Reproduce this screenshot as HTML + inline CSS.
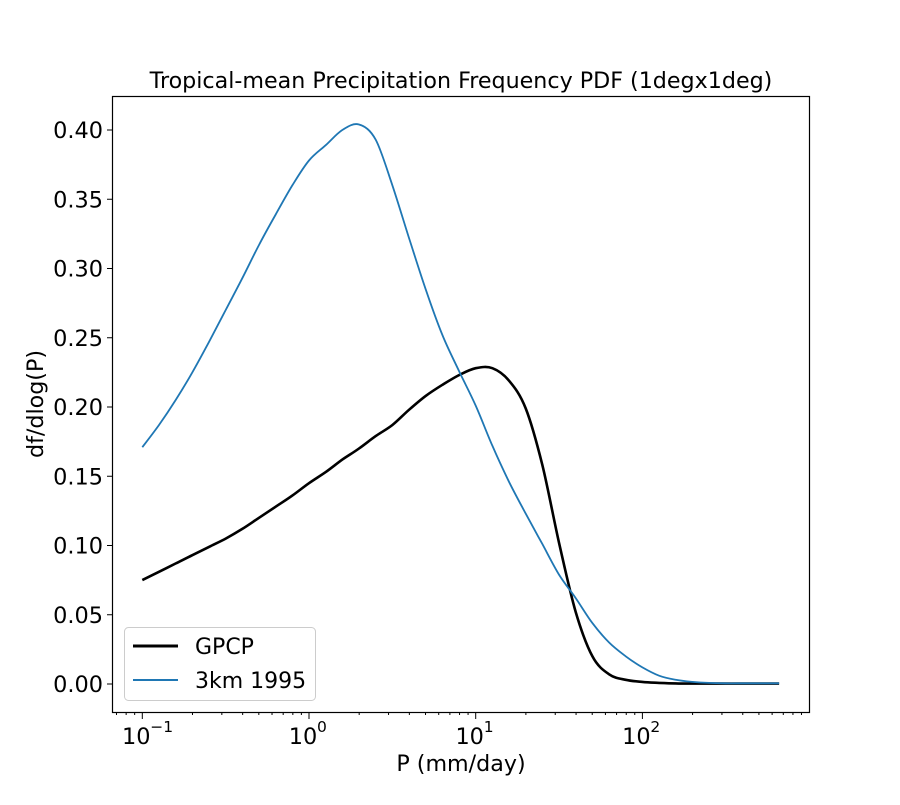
<!DOCTYPE html>
<html><head><meta charset="utf-8"><style>
body{margin:0;background:#fff}
svg text{font-family:"DejaVu Sans","Liberation Sans",sans-serif;fill:#000}
</style></head><body>
<svg id="chart" width="900" height="800" xmlns="http://www.w3.org/2000/svg">
<rect width="900" height="800" fill="#fff"/>
<text x="461" y="88" font-size="22.2" text-anchor="middle">Tropical-mean Precipitation Frequency PDF (1degx1deg)</text>
<g id="axes"></g>
<g id="series"></g>
<rect x="112.5" y="96.5" width="697" height="616" fill="none" stroke="#000" stroke-width="1.2"/>
<text x="461" y="771" font-size="22.2" text-anchor="middle">P (mm/day)</text>
<text transform="translate(43,404) rotate(-90)" font-size="22.2" text-anchor="middle">df/dlog(P)</text>
<g>
<rect x="124.5" y="627.5" width="191" height="73" rx="4" fill="#fff" stroke="#ccc"/>
<line x1="133" y1="646" x2="178" y2="646" stroke="#000" stroke-width="3"/>
<text x="195" y="654" font-size="22">GPCP</text>
<line x1="133" y1="680" x2="178" y2="680" stroke="#1f77b4" stroke-width="2"/>
<text x="195" y="688" font-size="22">3km 1995</text>
</g>
</svg>
<script>
const logP = [-1.0,-0.9,-0.8,-0.7,-0.6,-0.5,-0.4,-0.3,-0.2,-0.1,0.0,0.1,0.2,0.3,0.4,0.5,0.6,0.7,0.8,0.9,1.0,1.1,1.2,1.3,1.4,1.5,1.6,1.7,1.8,1.9,2.0,2.1,2.2,2.3,2.4,2.5,2.6,2.7,2.82];
const gpcp = [.075,.081,.087,.093,.099,.105,.112,.120,.128,.136,.145,.153,.162,.170,.179,.187,.198,.208,.216,.223,.228,.228,.219,.199,.158,.102,.052,.020,.007,.003,.0015,.0008,.0004,.0003,.0003,.0003,.0003,.0003,.0003];
const km3 = [.171,.187,.205,.225,.247,.270,.293,.317,.339,.360,.378,.389,.400,.404,.393,.360,.322,.285,.252,.226,.201,.172,.146,.123,.101,.079,.062,.044,.030,.020,.012,.006,.003,.0015,.0008,.0005,.0005,.0005,.0005];
const yTicks = [0,0.05,0.10,0.15,0.20,0.25,0.30,0.35,0.40];
const xDecades = [-1,0,1,2];
const xs = v => 309 + 166.7*v;
const ys = v => 684 - v*1385;
const NS='http://www.w3.org/2000/svg';
const axes=document.getElementById('axes'), ser=document.getElementById('series');
function mk(t,a,p){const e=document.createElementNS(NS,t);for(const k in a)e.setAttribute(k,a[k]);p.appendChild(e);return e;}
yTicks.forEach(v=>{
  const l=mk('line',{x1:107,x2:112,y1:ys(v),y2:ys(v),stroke:'#000'},axes);
  
  
  const t=mk('text',{x:103,y:ys(v)+8,'font-size':22.4,'text-anchor':'end'},axes);
  t.textContent=v.toFixed(2);
  
  
});
for(let d=-2;d<=2;d++){for(let m=1;m<10;m++){const lv=d+Math.log10(m);const x=xs(lv);if(x<113||x>809)continue;
  const l=mk('line',{x1:x,x2:x,y1:712,y2:m===1?719:715,stroke:'#000'},axes);
  
  }}
xDecades.forEach(d=>{
  const t=mk('text',{x:xs(d)-6,y:744,'font-size':22.4,'text-anchor':'middle'},axes);
  t.textContent='10';
  
  
  const s=mk('text',{x:xs(d)+8,y:732,'font-size':15.5},axes);
  s.textContent=d<0?'\u2212'+(-d):String(d);
  
  
});
function line(vals,color,w,name){
  const pts=vals.map((v,i)=>[xs(logP[i]),ys(v)]);
  let d='M'+pts[0][0].toFixed(1)+','+pts[0][1].toFixed(1);
  for(let i=0;i<pts.length-1;i++){
    const p0=pts[Math.max(0,i-1)],p1=pts[i],p2=pts[i+1],p3=pts[Math.min(pts.length-1,i+2)];
    const c1=[p1[0]+(p2[0]-p0[0])/6,p1[1]+(p2[1]-p0[1])/6];
    const c2=[p2[0]-(p3[0]-p1[0])/6,p2[1]-(p3[1]-p1[1])/6];
    d+='C'+c1.map(n=>n.toFixed(1))+' '+c2.map(n=>n.toFixed(1))+' '+p2.map(n=>n.toFixed(1));
  }
  const p=mk('path',{d:d,fill:'none',stroke:color,'stroke-width':w,'stroke-linejoin':'round'},ser);
  
  
}
line(gpcp,'#000',2.6,'gpcp-line');
line(km3,'#1f77b4',1.8,'3km-1995-line');
</script>
</body></html>
